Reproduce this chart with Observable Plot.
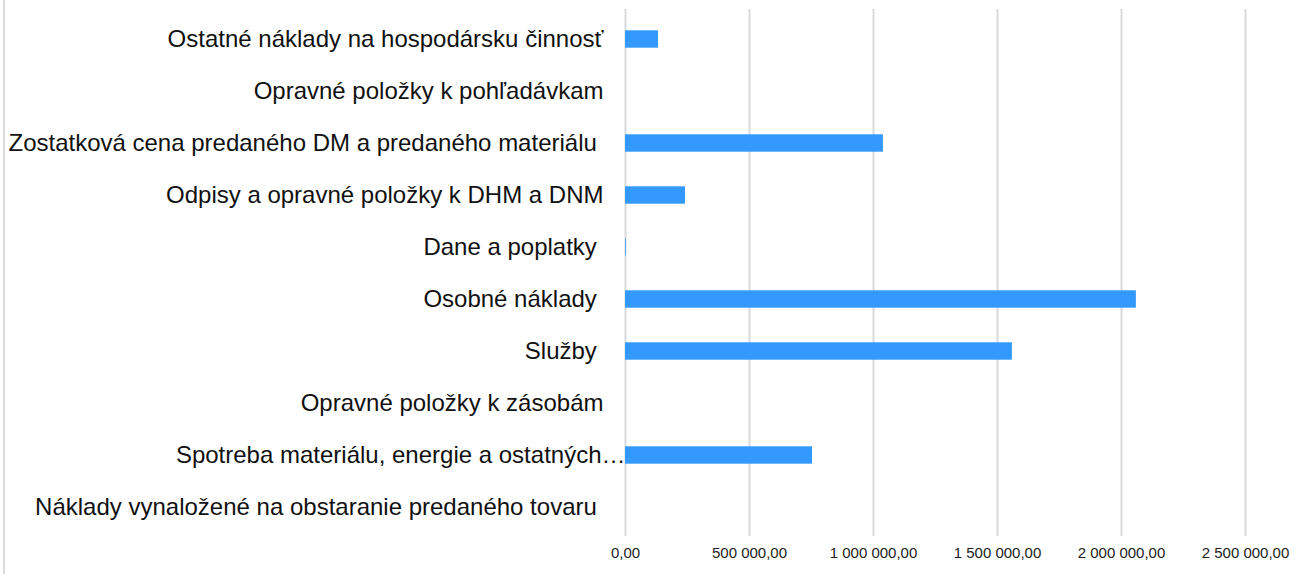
<!DOCTYPE html>
<html>
<head>
<meta charset="utf-8">
<script src="https://cdn.jsdelivr.net/npm/d3@7"></script>
<script src="https://cdn.jsdelivr.net/npm/@observablehq/plot@0.6"></script>
<style>
  html, body { margin: 0; padding: 0; background: #fff; }
  #wrap { position: relative; width: 1304px; height: 574px; overflow: hidden; }
  #wrap::before { content: ""; position: absolute; left: 3px; top: 0; width: 2px; height: 574px; background: #dcdcdc; }
  #wrap svg, #wrap svg text { font-family: "Liberation Sans", Arial, Helvetica, sans-serif !important; }
  .yax text { white-space: pre; font-size: 24px !important; }
  .xax text { font-size: 15px !important; }
</style>
</head>
<body>
<div id="wrap"></div>
<script>
const categories = [
  "Ostatné náklady na hospodársku činnosť",
  "Opravné položky k pohľadávkam",
  "Zostatková cena predaného DM a predaného materiálu ",
  "Odpisy a opravné položky k DHM a DNM",
  "Dane a poplatky ",
  "Osobné náklady ",
  "Služby ",
  "Opravné položky k zásobám",
  "Spotreba materiálu, energie a ostatných…",
  "Náklady vynaložené na obstaranie predaného tovaru "
];
const values = [133000, 0, 1040000, 242000, 3000, 2060000, 1560000, 0, 754000, 0];
const xTicks = [0, 500000, 1000000, 1500000, 2000000, 2500000];
const truncatedLabels = ["Spotreba materiálu, energie a ostatných…"];

const data = categories.map((c, i) => ({category: c, value: values[i]}));
const fmt = d3.formatLocale({decimal: ",", thousands: " ", grouping: [3], currency: ["", ""]}).format(",.2f");

const chart = Plot.plot({
  width: 1304,
  height: 574,
  marginLeft: 625,
  marginRight: 59,
  marginTop: 9,
  marginBottom: 38,
  style: {background: "#fff"},
  x: {domain: [0, 2500000]},
  y: {domain: categories, padding: 0},
  marks: [
    Plot.gridX(xTicks, {stroke: "#d9d9d9", strokeOpacity: 1, strokeWidth: 2}),
    Plot.barX(data, {x: "value", y: "category", fill: "#3399ff", insetTop: 17.3, insetBottom: 17.3}),
    Plot.axisX(xTicks, {tickSize: 0, tickPadding: 11, tickFormat: fmt, fontSize: 15, fill: "#222", label: null, className: "xax"}),
    Plot.axisY(categories.filter(c => !truncatedLabels.includes(c)), {tickSize: 0, tickPadding: 22, fontSize: 24, fill: "#111", label: null, className: "yax"}),
    Plot.axisY(truncatedLabels, {tickSize: 0, tickPadding: 0, fontSize: 24, fill: "#111", label: null, className: "yax"})
  ]
});
document.getElementById("wrap").appendChild(chart);
</script>
</body>
</html>
